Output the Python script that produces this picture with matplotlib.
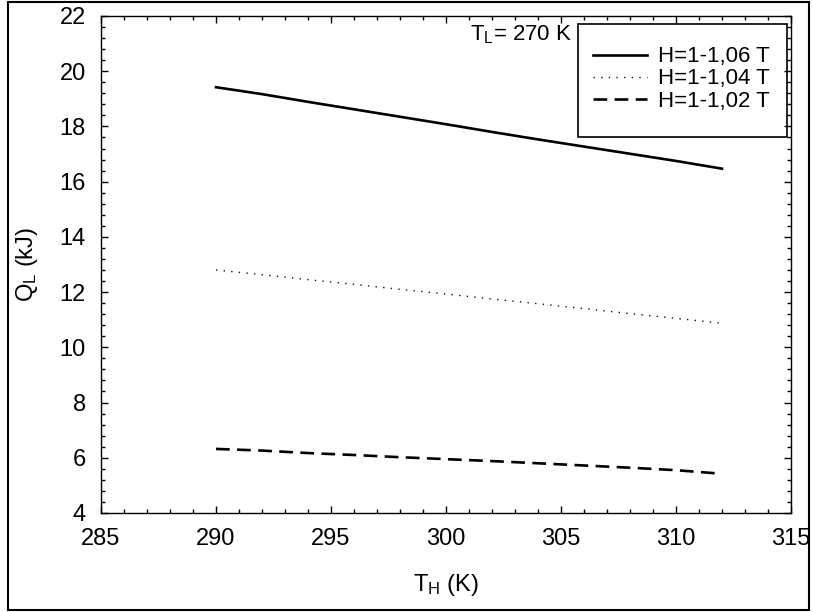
import numpy as np
import matplotlib
matplotlib.use('Agg')
import matplotlib.pyplot as plt
from matplotlib.patches import Rectangle
from matplotlib.ticker import MultipleLocator

plt.rcParams['font.family'] = ['Liberation Sans', 'DejaVu Sans']
plt.rcParams['mathtext.fontset'] = 'custom'
plt.rcParams['mathtext.rm'] = 'Liberation Sans'
plt.rcParams['mathtext.it'] = 'Liberation Sans'

# T_H (K)
th = [290, 292, 294, 296, 298, 300, 302, 304, 306, 308, 310, 312]
# Q_L (kJ) for three field ranges
q_106 = [19.42, 19.17, 18.89, 18.62, 18.35, 18.08, 17.80, 17.53, 17.27, 17.01, 16.75, 16.47]
q_104 = [12.80, 12.63, 12.45, 12.28, 12.10, 11.93, 11.75, 11.58, 11.40, 11.22, 11.05, 10.87]
q_102 = [6.32, 6.26, 6.17, 6.10, 6.02, 5.95, 5.88, 5.80, 5.72, 5.64, 5.55, 5.42]
labels = ['H=1-1,06 T', 'H=1-1,04 T', 'H=1-1,02 T']

fig = plt.figure(figsize=(8.13, 6.12), dpi=100)
ax = fig.add_axes([0.1242, 0.1618, 0.8487, 0.8121])

ax.plot(th, q_106, color='black', linewidth=1.9, label=labels[0])
ax.plot(th, q_104, color='#111111', linewidth=1.0, dashes=(1, 4.5), label=labels[1])
ax.plot(th, q_102, color='black', linewidth=1.9, dashes=(5.2, 2.8), label=labels[2])

ax.set_xlim(285, 315)
ax.set_ylim(4, 22)
ax.xaxis.set_major_locator(MultipleLocator(5))
ax.xaxis.set_minor_locator(MultipleLocator(1))
ax.yaxis.set_major_locator(MultipleLocator(2))
ax.yaxis.set_minor_locator(MultipleLocator(0.4))
ax.tick_params(which='both', direction='in', top=True, right=True, labelsize=17, pad=11)
ax.tick_params(which='major', length=5, width=1)
ax.tick_params(which='minor', length=2.8, width=1)
for s in ax.spines.values():
    s.set_linewidth(1.0)

ax.set_xlabel(r'$\mathregular{T_H}$ (K)', fontsize=17, labelpad=16)
ax.set_ylabel(r'$\mathregular{Q_L}$ (kJ)', fontsize=17, labelpad=14)

ax.text(305.5, 21.1, r'$\mathregular{T_L}$= 270 K', fontsize=16, ha='right', va='baseline')

# legend box drawn separately so its padding can be set freely
ax.add_patch(Rectangle((0.691, 0.7565), 0.303, 0.2274, transform=ax.transAxes,
                       fill=False, edgecolor='black', linewidth=1.2, zorder=3))
leg = ax.legend(loc='upper left', bbox_to_anchor=(0.713, 0.939), fontsize=16,
                frameon=False, handlelength=2.45, handletextpad=0.5,
                labelspacing=0.05, borderpad=0, borderaxespad=0)

# outer frame around the figure
fig.patches.append(Rectangle((0.0098, 0.0033), 0.985, 0.993, transform=fig.transFigure,
                             fill=False, edgecolor='black', linewidth=1.5))

fig.savefig('out.png', dpi=100)
